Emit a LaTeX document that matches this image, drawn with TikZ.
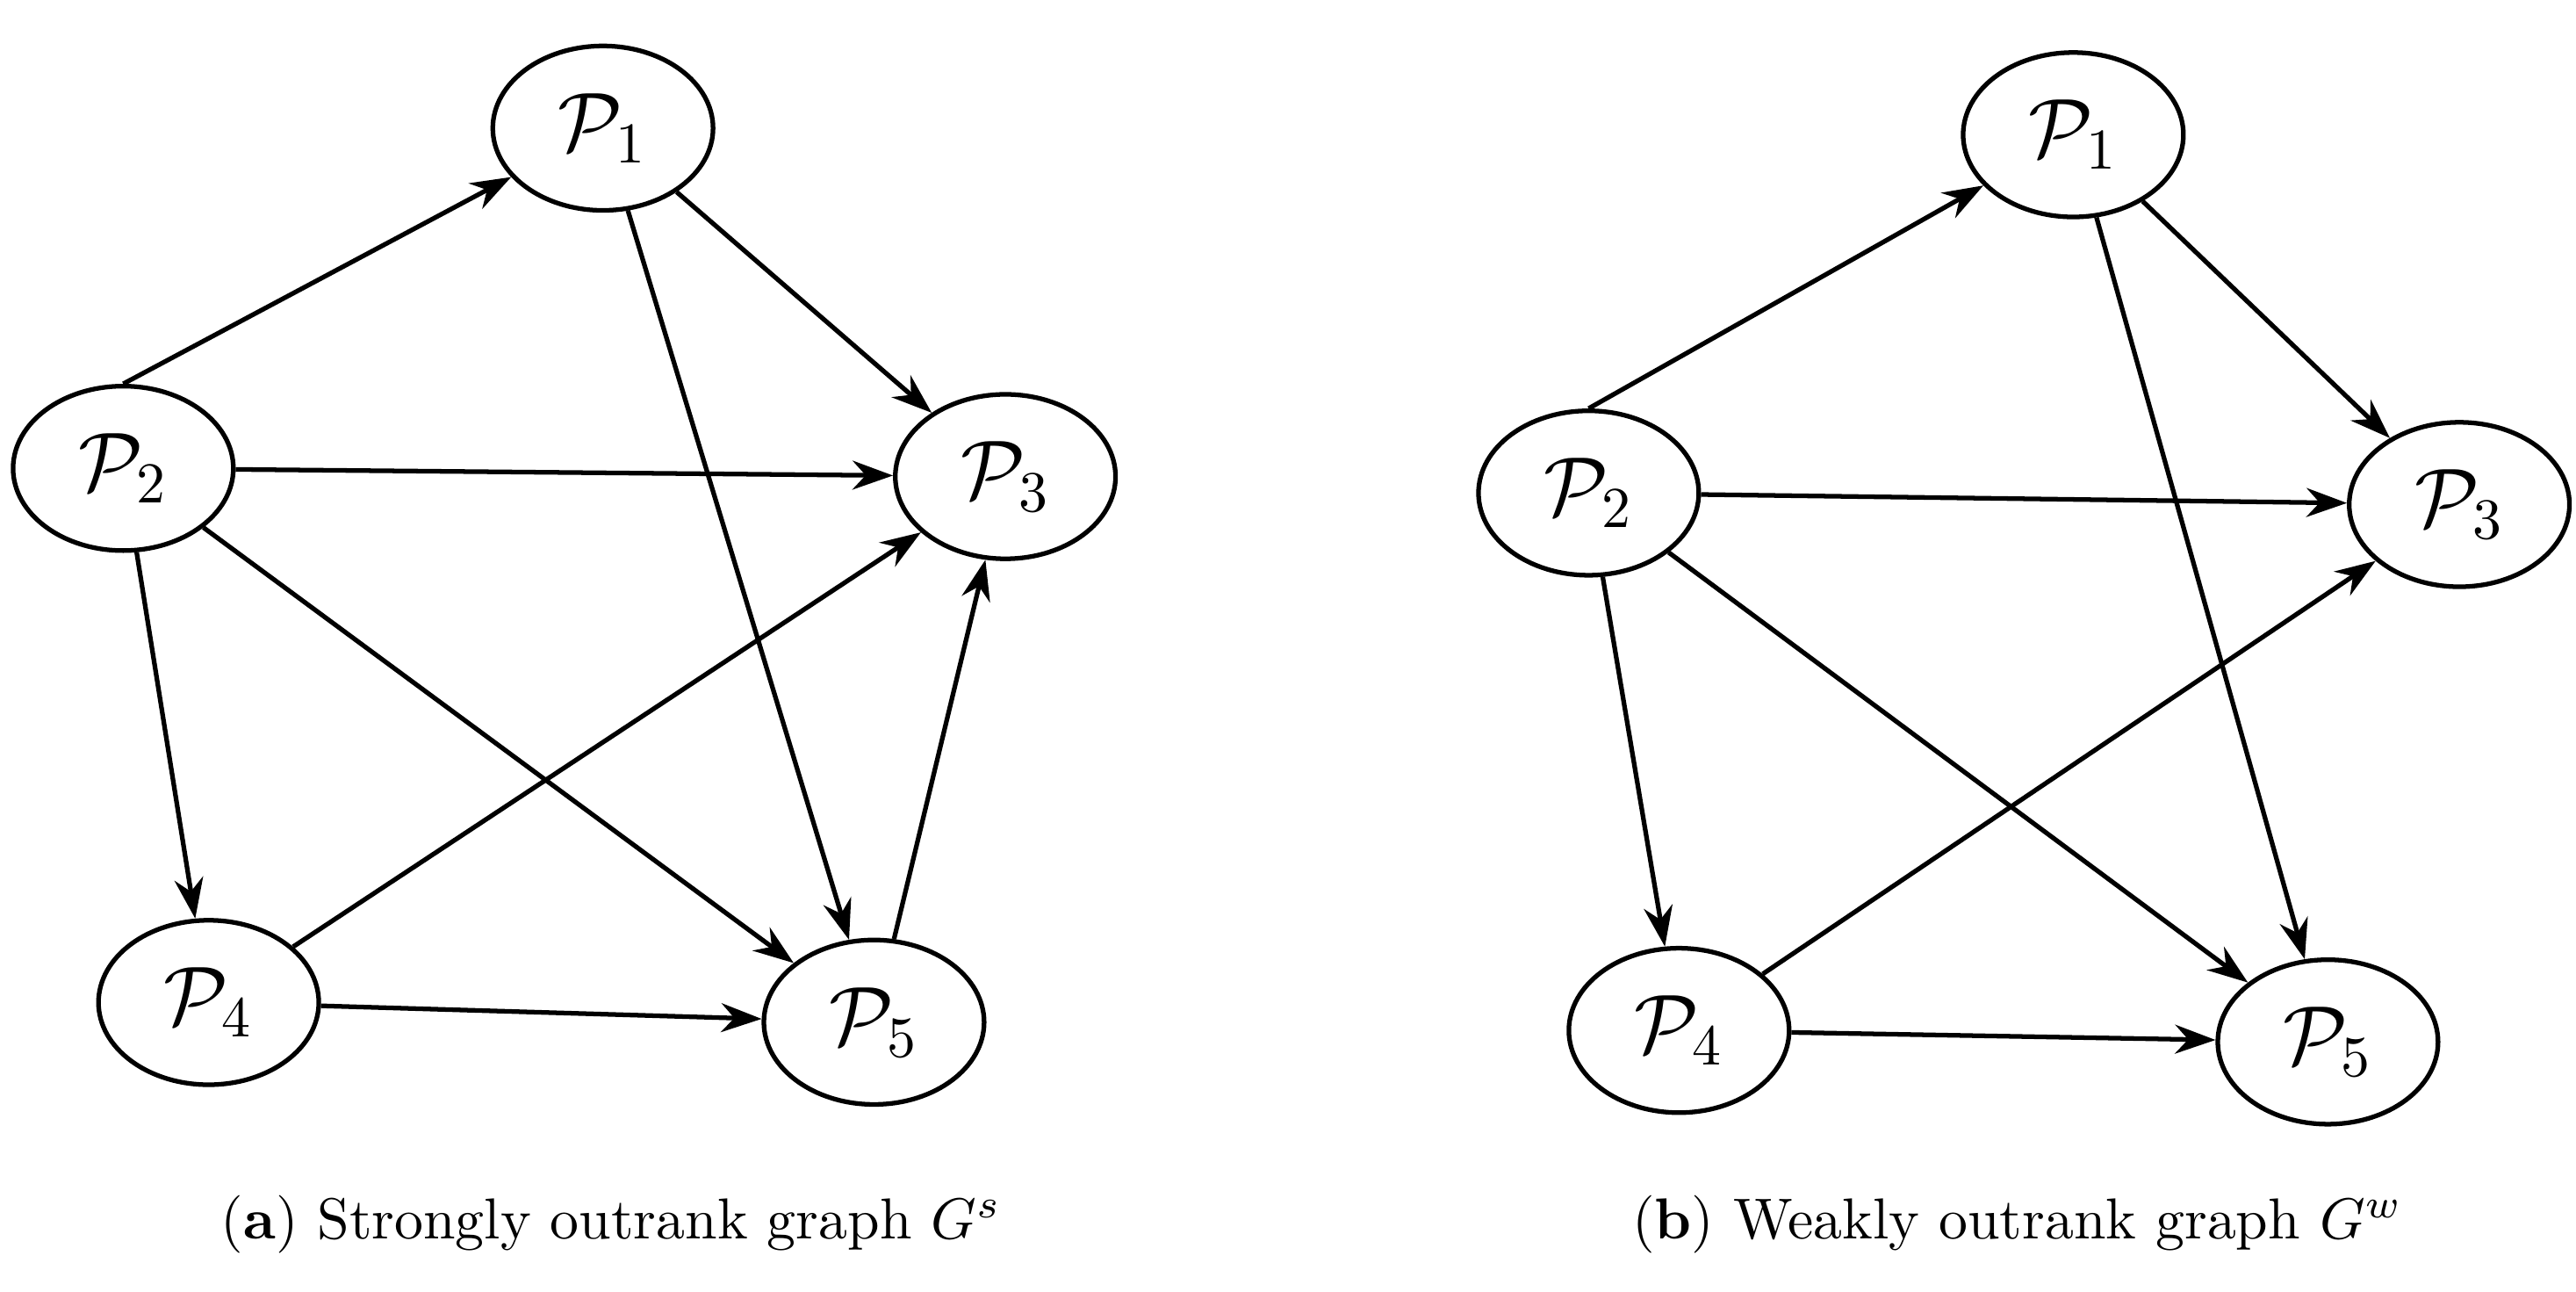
\documentclass[tikz,border=0pt]{standalone}
\usetikzlibrary{shapes.geometric,arrows.meta}
\begin{document}
\begin{tikzpicture}[x=0.01cm,y=-0.01cm,
  nd/.style={ellipse,draw,line width=0.8pt,minimum width=1.34cm,minimum height=1.0cm,inner sep=0pt,font=\Large},
  ar/.style={-{Stealth[length=7pt,width=5pt]},line width=0.8pt}]
\useasboundingbox (0,0) rectangle (1568,786);
% left
\node[nd] (a1) at (367,78) {$\mathcal{P}_1$};
\node[nd] (a2) at (75,285) {$\mathcal{P}_2$};
\node[nd] (a3) at (612,290) {$\mathcal{P}_3$};
\node[nd] (a4) at (127,610) {$\mathcal{P}_4$};
\node[nd] (a5) at (532,622) {$\mathcal{P}_5$};
\draw[ar] (a2.north) -- (a1);
\draw[ar] (a1) -- (a3);
\draw[ar] (a1) -- (a5);
\draw[ar] (a2) -- (a3);
\draw[ar] (a2) -- (a5);
\draw[ar] (a2) -- (a4);
\draw[ar] (a4) -- (a3);
\draw[ar] (a4) -- (a5);
\draw[ar] (a5) -- (a3);
% right
\node[nd] (b1) at (1262,82) {$\mathcal{P}_1$};
\node[nd] (b2) at (967,300) {$\mathcal{P}_2$};
\node[nd] (b3) at (1497,307) {$\mathcal{P}_3$};
\node[nd] (b4) at (1022,627) {$\mathcal{P}_4$};
\node[nd] (b5) at (1417,634) {$\mathcal{P}_5$};
\draw[ar] (b2.north) -- (b1);
\draw[ar] (b1) -- (b3);
\draw[ar] (b1) -- (b5);
\draw[ar] (b2) -- (b3);
\draw[ar] (b2) -- (b5);
\draw[ar] (b2) -- (b4);
\draw[ar] (b4) -- (b3);
\draw[ar] (b4) -- (b5);
\node[font=\normalsize] (ca) at (372,745) {(\textbf{a}) Strongly outrank graph $G^s$};
\node[font=\normalsize] (cb) at (1228,745) {(\textbf{b}) Weakly outrank graph $G^w$};
\end{tikzpicture}
\end{document}
